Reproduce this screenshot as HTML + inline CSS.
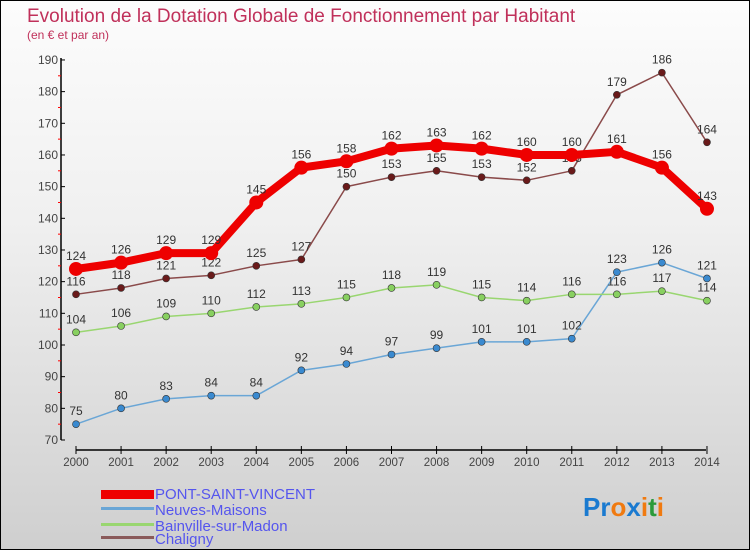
<!DOCTYPE html>
<html><head><meta charset="utf-8"><style>
body{margin:0}
#c{position:relative;width:750px;height:550px;box-sizing:border-box;border:1px solid #000;background:linear-gradient(#fcfcfc,#f0f0f0 40%,#cfcfcf);font-family:"Liberation Sans",sans-serif;overflow:hidden}
</style></head><body>
<div id="c">
<svg id="s" width="750" height="550" style="position:absolute;left:-1px;top:-1px">
<text x="27" y="22" font-size="19" fill="#c0305a">Evolution de la Dotation Globale de Fonctionnement par Habitant</text>
<text x="27" y="39" font-size="12" fill="#c0305a">(en € et par an)</text>
<g id="ax"></g><g id="ser"></g>
<g>
<rect x="101" y="490" width="53" height="9" fill="#ee0000"/>
<text x="155" y="499" font-size="15" fill="#5555ee">PONT-SAINT-VINCENT</text>
<rect x="101" y="507" width="53" height="3" fill="#6aa6d6"/>
<text x="155" y="515" font-size="15" fill="#5555ee">Neuves-Maisons</text>
<rect x="101" y="523" width="53" height="3" fill="#99d670"/>
<text x="155" y="531" font-size="15" fill="#5555ee">Bainville-sur-Madon</text>
<rect x="101" y="536" width="53" height="3" fill="#8a5a5a"/>
<text x="155" y="544" font-size="15" fill="#5555ee">Chaligny</text>
</g>
<text x="583" y="516" font-size="26" font-weight="bold"><tspan fill="#1a7ad0">Pr</tspan><tspan fill="#f07a10">o</tspan><tspan fill="#1a7ad0">x</tspan><tspan fill="#f07a10">i</tspan><tspan fill="#2a9a3a">t</tspan><tspan fill="#f07a10">i</tspan></text>
</svg></div>
<script>
const years=[2000,2001,2002,2003,2004,2005,2006,2007,2008,2009,2010,2011,2012,2013,2014];
const yTicks=[70,80,90,100,110,120,130,140,150,160,170,180,190];
const pont=[124,126,129,129,145,156,158,162,163,162,160,160,161,156,143];
const neuves=[75,80,83,84,84,92,94,97,99,101,101,102,123,126,121];
const bainville=[104,106,109,110,112,113,115,118,119,115,114,116,116,117,114];
const chaligny=[116,118,121,122,125,127,150,153,155,153,152,155,179,186,164];
const NS="http://www.w3.org/2000/svg";
const X=i=>76+i*45.07, Y=v=>440-(v-70)*3.167;
function mk(t,a,p){const e=document.createElementNS(NS,t);for(const k in a)e.setAttribute(k,a[k]);p.appendChild(e);return e;}
const ax=document.getElementById('ax'),ser=document.getElementById('ser');
let e=mk('line',{x1:61,y1:58,x2:61,y2:440,stroke:'#000','stroke-width':1.5},ax);

e=mk('line',{x1:76,y1:450,x2:706,y2:450,stroke:'#000','stroke-width':1.5},ax);

yTicks.forEach(v=>{mk('line',{x1:61,y1:Y(v),x2:65,y2:Y(v),stroke:'#000'},ax);
 if(v<190)mk('line',{x1:58,y1:Y(v+5),x2:61,y2:Y(v+5),stroke:'#f00'},ax);
 const t=mk('text',{x:58,y:Y(v)+4,'font-size':12,'text-anchor':'end',fill:'#444'},ax);t.textContent=v;
 });
years.forEach((y,i)=>{mk('line',{x1:X(i),y1:446,x2:X(i),y2:454,stroke:'#000'},ax);
 const t=mk('text',{x:X(i),y:466,'font-size':11.5,'text-anchor':'middle',fill:'#444'},ax);t.textContent=y;
 });
function series(d,col,w,r,dot,name){
 const g=mk('g',{},ser);
 mk('polyline',{points:d.map((v,i)=>X(i)+','+Y(v)).join(' '),fill:'none',stroke:col,'stroke-width':w,'stroke-linejoin':'round'},g);
 d.forEach((v,i)=>{const c=mk('circle',{cx:X(i),cy:Y(v),r:r,fill:dot,stroke:'#333','stroke-width':r>5?0:0.6},g);
  
  const t=mk('text',{x:X(i),y:Y(v)-9,'font-size':12,'text-anchor':'middle',fill:'#333'},g);t.textContent=v;});
}
series(neuves,'#6aa6d6',1.5,3.5,'#3a8ad0','neuves-maisons');
series(bainville,'#99d670',1.5,3.5,'#88d060','bainville-sur-madon');
series(chaligny,'#8a4a4a',1.5,3.5,'#6a1a1a','chaligny');
series(pont,'#ee0000',8,7,'#ee0000','pont-saint-vincent');
</script>
</body></html>
